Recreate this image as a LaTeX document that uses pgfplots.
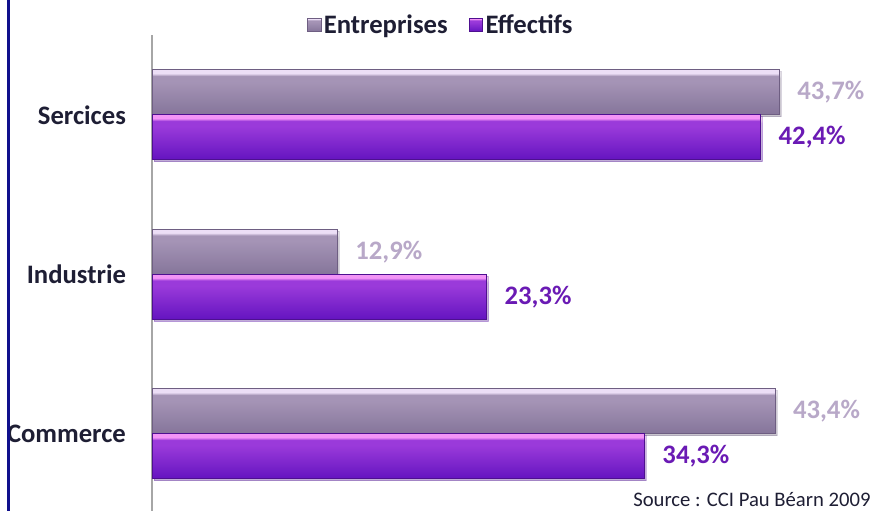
\documentclass[border=0pt]{standalone}
\usepackage{pgfplots}
\pgfplotsset{compat=1.18}
\usetikzlibrary{shadows}
\usepackage{fontspec}
\setmainfont{Carlito}

\definecolor{entTop}{HTML}{ECDEF6}
\definecolor{entMid}{HTML}{A594B6}
\definecolor{entBot}{HTML}{85759A}
\definecolor{entDraw}{HTML}{6E5E82}
\definecolor{effTop}{HTML}{F294F6}
\definecolor{effMid}{HTML}{9A3ADA}
\definecolor{effBot}{HTML}{6414C0}
\definecolor{effDraw}{HTML}{4E1090}
\definecolor{entLabel}{HTML}{B8A8C8}
\definecolor{effLabel}{HTML}{6A1AB4}
\definecolor{txt}{HTML}{1E1E34}
\definecolor{frame}{HTML}{10108C}

% light band at the top of each bar, then the body colour
\pgfdeclareverticalshading{entShade}{100bp}{color(0bp)=(entBot); color(25bp)=(entBot);
  color(62bp)=(entMid); color(68bp)=(entMid); color(71bp)=(entTop); color(75bp)=(entTop); color(100bp)=(entTop)}
\pgfdeclareverticalshading{effShade}{100bp}{color(0bp)=(effBot); color(25bp)=(effBot);
  color(62bp)=(effMid); color(68bp)=(effMid); color(71bp)=(effTop); color(75bp)=(effTop); color(100bp)=(effTop)}

\pgfplotsset{
  entbar/.style={draw=entDraw, shading=entShade, bar shift=16.875pt, forget plot,
    drop shadow={shadow xshift=1.5pt, shadow yshift=-1.5pt, opacity=0.25},
    every node near coord/.append style={text=entLabel}},
  effbar/.style={draw=effDraw, shading=effShade, bar shift=-16.875pt, forget plot,
    drop shadow={shadow xshift=1.5pt, shadow yshift=-1.5pt, opacity=0.25},
    every node near coord/.append style={text=effLabel}},
}

\begin{document}
\begin{tikzpicture}
\begin{axis}[
    at={(114pt,-26.25pt)}, anchor=north west,
    scale only axis,
    width=538.125pt, height=358.875pt,
    xbar, bar width=33.75pt,
    xmin=0, xmax=50, ymin=-0.5, ymax=2.5,
    enlargelimits=false,
    axis x line=none,
    axis y line*=left,
    y axis line style={draw=gray!70, line width=0.8pt},
    ytick={0,1,2},
    yticklabels={Commerce,Industrie,Sercices},
    major tick length=0pt,
    yticklabel style={anchor=east, xshift=-16pt, text=txt,
      font=\fontsize{20}{24}\selectfont\bfseries},
    point meta=x,
    nodes near coords={\pgfmathprintnumber[fixed,fixed zerofill,precision=1,use comma,assume math mode=true]{\pgfplotspointmeta}\%},
    nodes near coords style={anchor=west, inner sep=0pt, xshift=13.5pt,
      font=\fontsize{20}{24}\selectfont\bfseries},
    legend image code/.code={
      \draw[#1] (0pt,-5pt) rectangle (10pt,5pt);
    },
    legend style={
      at={(0.403,1.021)}, anchor=center,
      draw=none, fill=none,
      legend columns=2,
      text=txt,
      font=\fontsize{20}{24}\selectfont\bfseries,
      /tikz/every even column/.append style={column sep=14pt},
    },
  ]

  \addlegendimage{draw=entDraw, shading=entShade}
  \addlegendentry{Entreprises}
  \addlegendimage{draw=effDraw, shading=effShade}
  \addlegendentry{Effectifs}

  % Entreprises
  \addplot[entbar] coordinates {(43.4,0)};
  \addplot[entbar] coordinates {(12.9,1)};
  \addplot[entbar] coordinates {(43.7,2)};
  % Effectifs
  \addplot[effbar] coordinates {(34.3,0)};
  \addplot[effbar] coordinates {(23.3,1)};
  \addplot[effbar] coordinates {(42.4,2)};

\end{axis}

\draw[frame, line width=2.2pt] (6.4pt,2pt) -- (6.4pt,-390pt);
\node[anchor=base west, text=txt, font=\fontsize{15.5}{18}\selectfont, inner sep=0pt]
  at (474.75pt,-379.5pt) {Source : CCI Pau Béarn 2009};

\pgfresetboundingbox
\path[use as bounding box] (0pt,0pt) rectangle (654.75pt,-382.5pt);
\end{tikzpicture}
\end{document}
